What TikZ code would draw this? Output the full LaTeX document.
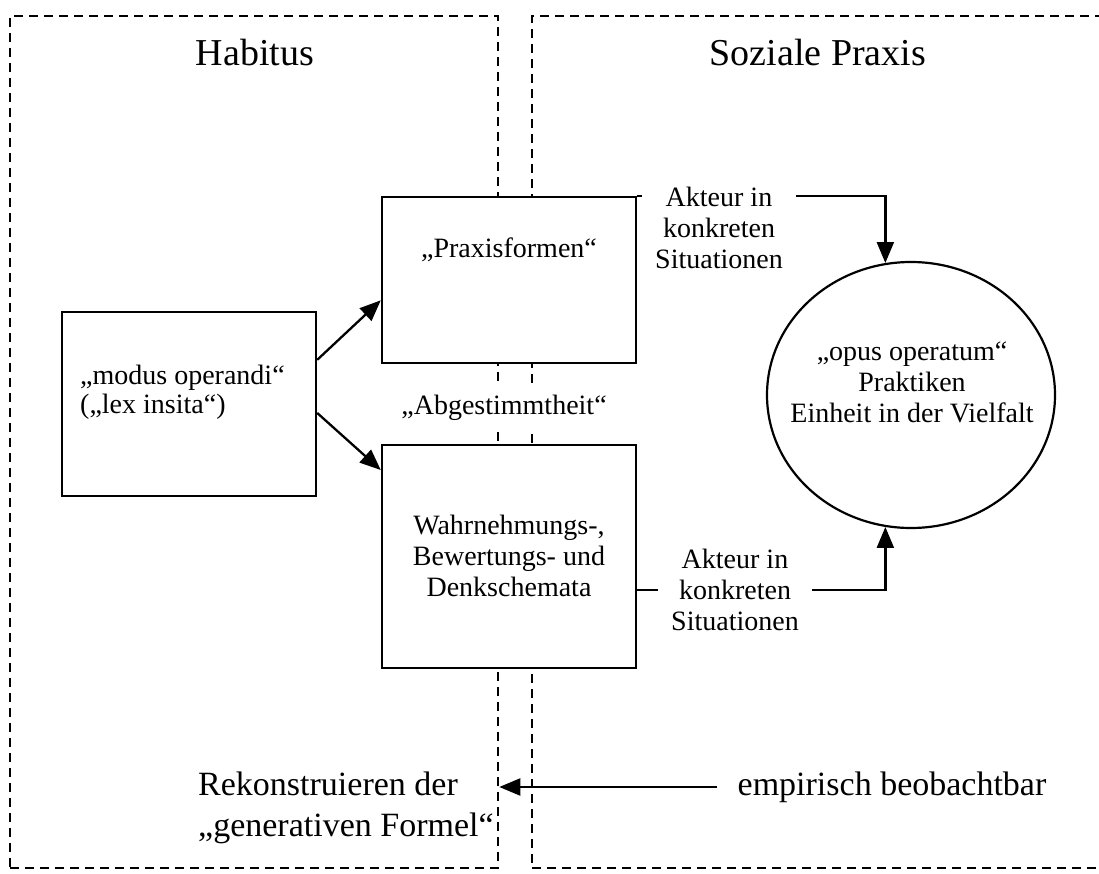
\documentclass[tikz,border=0pt]{standalone}
\usepackage{fontspec}
\setmainfont{Liberation Serif}
\usetikzlibrary{arrows.meta,shapes.geometric}
\begin{document}
\begin{tikzpicture}[x=1pt,y=-1pt,
  frame/.style={draw,dash pattern=on 9pt off 6pt,line width=2.6pt,inner sep=0pt},
  box/.style={draw,fill=white,line width=2.4pt,inner sep=0pt,minimum width=254pt},
  boxtxt/.style={font=\fontsize{28}{31}\selectfont,align=center,inner sep=0pt},
  big/.style={font=\fontsize{34}{41}\selectfont,align=left},
  title/.style={font=\fontsize{38}{44}\selectfont,inner sep=0pt},
  link/.style={line width=2.3pt},
  arr/.style={line width=2.3pt,-{Triangle[length=21pt,width=17pt]}}]
\useasboundingbox (0,0) rectangle (1099,874);

% the two dashed regions
\node[frame,minimum width=488pt,minimum height=852pt] (hab) at (254,442) {};
\node[frame,minimum width=580pt,minimum height=852pt] (soz) at (822,442) {};
\node[title] (habt) at (255,53) {Habitus};
\node[title] (sozt) at (818,53) {Soziale Praxis};

% boxes
\node[box,minimum height=184pt] (mod) at (189,404) {};
\node[big,font=\fontsize{28}{29}\selectfont,anchor=west,inner sep=0pt] (modt) at (80,392)
  {„modus operandi“\\(„lex insita“)};
\node[box,minimum height=166pt] (prax) at (509,280) {};
\node[boxtxt] (praxt) at (509,250) {„Praxisformen“};
\node[box,minimum height=223pt] (wahr) at (509,556.5) {};
\node[boxtxt] (wahrt) at (509,556) {Wahrnehmungs-,\\Bewertungs- und\\Denkschemata};
\node[boxtxt,fill=white,inner xsep=2pt,inner ysep=9pt] (abg) at (504,408) {„Abgestimmtheit“};

% practice
\node[draw,ellipse,line width=2.2pt,inner sep=0pt,minimum width=288pt,minimum height=266pt] (opus) at (911,395) {};
\node[boxtxt] (opust) at (912,382) {„opus operatum“\\Praktiken\\Einheit in der Vielfalt};

% actor labels
\node[boxtxt,inner xsep=13pt] (akt1) at (719,228) {Akteur in\\konkreten\\Situationen};
\node[boxtxt,inner xsep=13pt] (akt2) at (735,590) {Akteur in\\konkreten\\Situationen};

% bottom labels
\node[big,anchor=west,inner sep=0pt] (rek) at (198,808) {Rekonstruieren der\\„generativen Formel“};
\node[big,inner xsep=20pt,inner ysep=0pt] (emp) at (892,787) {empirisch beobachtbar};

% connectors
\draw[arr] (mod.19) -- (prax.189);
\draw[arr] (mod.-4) -- (wahr.146);
\draw[link] (prax.north east) -- (akt1.west |- prax.north east);
\draw[arr] (akt1.east |- prax.north east) -| (opus.101);
\draw[link] (wahr.east |- akt2.west) -- (akt2.west);
\draw[arr] (akt2.east) -| (opus.259);
\draw[arr] (emp.west) -- (emp.west -| hab.east);
\end{tikzpicture}
\end{document}
